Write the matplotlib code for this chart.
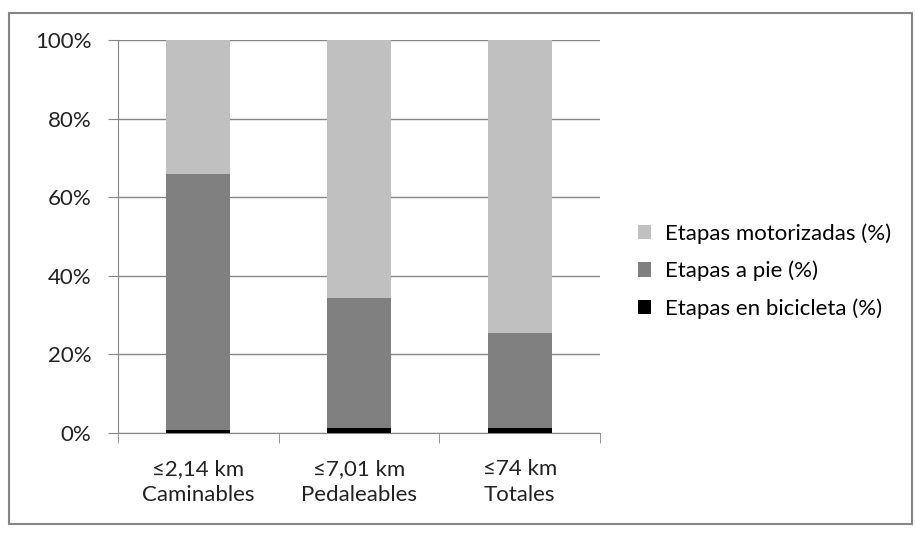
import numpy as np
import matplotlib.pyplot as plt
from matplotlib.patches import Rectangle
from matplotlib.ticker import FuncFormatter

plt.rcParams['font.family'] = ['Lato', 'DejaVu Sans']

categorias = ['≤2,14 km\nCaminables', '≤7,01 km\nPedaleables', '≤74 km\nTotales']
bicicleta = [0.8, 1.2, 1.2]
a_pie = [65.2, 33.1, 24.3]
motorizadas = [34.0, 65.7, 74.5]

fs = 16

fig = plt.figure(figsize=(9.15, 5.33), dpi=100)
# marco exterior del gráfico
fig.patches.append(Rectangle((9 / 915, 1 - 524 / 533), 903 / 915, 511 / 533,
                             transform=fig.transFigure, fill=False,
                             edgecolor='#868686', linewidth=1.5))

ax = fig.add_axes([118 / 915, 1 - 433 / 533, 482 / 915, 393 / 533])
x = np.arange(len(categorias))
w = 0.4
ax.bar(x, bicicleta, w, color='#000000', label='Etapas en bicicleta (%)', zorder=3)
ax.bar(x, a_pie, w, bottom=bicicleta, color='#808080', label='Etapas a pie (%)', zorder=3)
base = np.array(bicicleta) + np.array(a_pie)
ax.bar(x, motorizadas, w, bottom=base, color='#c0c0c0', label='Etapas motorizadas (%)', zorder=3)

ax.set_xlim(-0.5, 2.5)
ax.set_ylim(0, 100)
ax.set_yticks(np.arange(0, 101, 20))
ax.yaxis.set_major_formatter(FuncFormatter(lambda v, p: f'{v:.0f}%'))
ax.grid(axis='y', color='#868686', linewidth=1, zorder=0)

ax.set_xticks(x)
ax.set_xticklabels(categorias, fontsize=fs, color='#222222', linespacing=1.35)
ax.set_xticks([-0.5, 0.5, 1.5, 2.5], minor=True)
ax.tick_params(axis='x', which='major', length=0, pad=19)
ax.tick_params(axis='x', which='minor', length=7, color='#868686', direction='out')
ax.tick_params(axis='y', length=7, color='#868686', labelsize=fs, labelcolor='#222222', pad=12)

for s in ['top', 'right']:
    ax.spines[s].set_visible(False)
ax.spines['left'].set_color('#868686')
ax.spines['bottom'].set_color('#868686')

handles, labels = ax.get_legend_handles_labels()
fig.legend(handles[::-1], labels[::-1], loc='center left',
           bbox_to_anchor=(638 / 915, 1 - 271 / 533), frameon=False,
           fontsize=fs, handlelength=0.6, handleheight=0.6,
           handletextpad=0.6, labelspacing=0.75, borderpad=0, borderaxespad=0)

fig.savefig('out.png', dpi=100)
